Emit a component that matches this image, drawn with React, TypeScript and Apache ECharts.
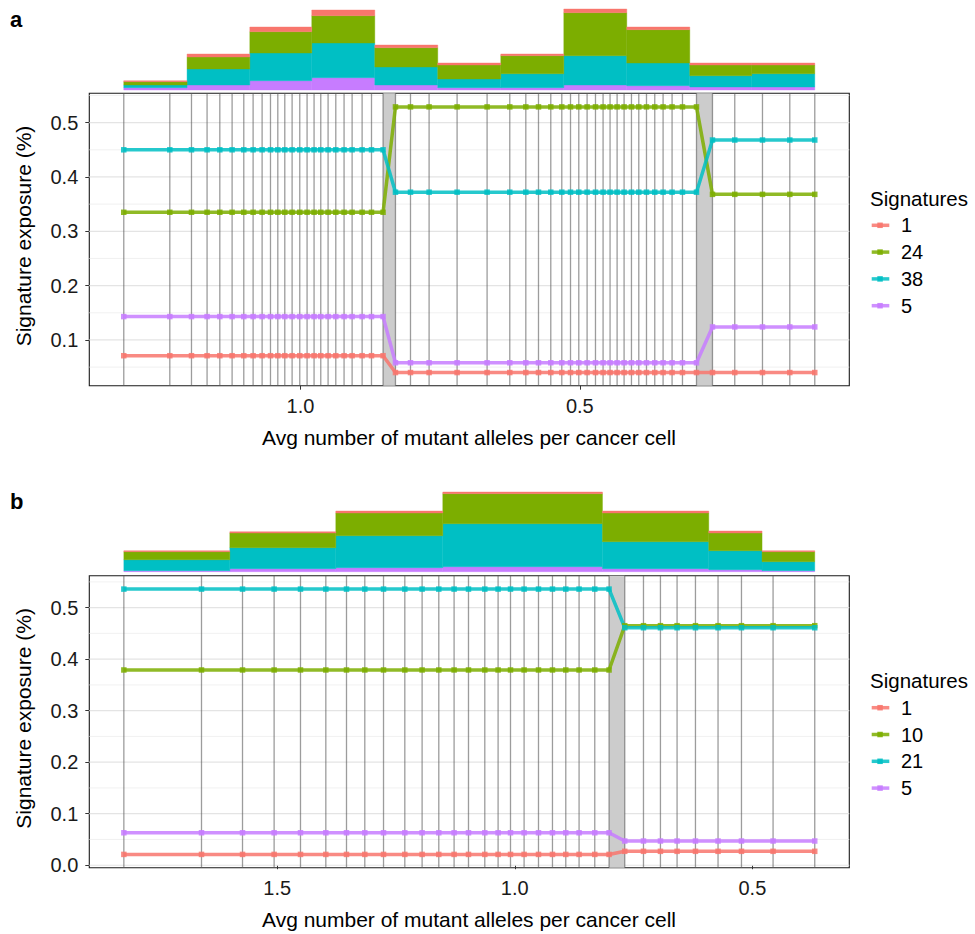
import React, { useEffect, useRef } from 'react';
import * as echarts from 'echarts';

const FONT = '"Liberation Sans", Arial, Helvetica, sans-serif';

// ---------- Panel a ----------
const aX = [
  1.3163, 1.2339, 1.1951, 1.1672, 1.1444, 1.1224, 1.1015, 1.0848, 1.0687, 1.0537, 1.0406, 1.0281,
  1.0150, 1.0013, 0.9882, 0.9757, 0.9637, 0.9506, 0.9368, 0.9220, 0.9076, 0.8897, 0.8729, 0.8522,
  0.8300, 0.8031, 0.7698, 0.7197, 0.6660, 0.6254, 0.5967, 0.5740, 0.5520, 0.5323, 0.5167, 0.5019,
  0.4870, 0.4720, 0.4584, 0.4459, 0.4333, 0.4208, 0.4076, 0.3945, 0.3807, 0.3659, 0.3510, 0.3349,
  0.3163, 0.2912,
  0.2626, 0.2227, 0.1731, 0.1242, 0.0795,
];
const aSig1 = [
  0.071, 0.071, 0.071, 0.071, 0.071, 0.071, 0.071, 0.071, 0.071, 0.071, 0.071, 0.071,
  0.071, 0.071, 0.071, 0.071, 0.071, 0.071, 0.071, 0.071, 0.071, 0.071, 0.071, 0.071,
  0.040, 0.040, 0.040, 0.040, 0.040, 0.040, 0.040, 0.040, 0.040, 0.040, 0.040, 0.040,
  0.040, 0.040, 0.040, 0.040, 0.040, 0.040, 0.040, 0.040, 0.040, 0.040, 0.040, 0.040,
  0.040, 0.040,
  0.040, 0.040, 0.040, 0.040, 0.040,
];
const aSig24 = [
  0.335, 0.335, 0.335, 0.335, 0.335, 0.335, 0.335, 0.335, 0.335, 0.335, 0.335, 0.335,
  0.335, 0.335, 0.335, 0.335, 0.335, 0.335, 0.335, 0.335, 0.335, 0.335, 0.335, 0.335,
  0.529, 0.529, 0.529, 0.529, 0.529, 0.529, 0.529, 0.529, 0.529, 0.529, 0.529, 0.529,
  0.529, 0.529, 0.529, 0.529, 0.529, 0.529, 0.529, 0.529, 0.529, 0.529, 0.529, 0.529,
  0.529, 0.529,
  0.368, 0.368, 0.368, 0.368, 0.368,
];
const aSig38 = [
  0.450, 0.450, 0.450, 0.450, 0.450, 0.450, 0.450, 0.450, 0.450, 0.450, 0.450, 0.450,
  0.450, 0.450, 0.450, 0.450, 0.450, 0.450, 0.450, 0.450, 0.450, 0.450, 0.450, 0.450,
  0.372, 0.372, 0.372, 0.372, 0.372, 0.372, 0.372, 0.372, 0.372, 0.372, 0.372, 0.372,
  0.372, 0.372, 0.372, 0.372, 0.372, 0.372, 0.372, 0.372, 0.372, 0.372, 0.372, 0.372,
  0.372, 0.372,
  0.468, 0.468, 0.468, 0.468, 0.468,
];
const aSig5 = [
  0.143, 0.143, 0.143, 0.143, 0.143, 0.143, 0.143, 0.143, 0.143, 0.143, 0.143, 0.143,
  0.143, 0.143, 0.143, 0.143, 0.143, 0.143, 0.143, 0.143, 0.143, 0.143, 0.143, 0.143,
  0.058, 0.058, 0.058, 0.058, 0.058, 0.058, 0.058, 0.058, 0.058, 0.058, 0.058, 0.058,
  0.058, 0.058, 0.058, 0.058, 0.058, 0.058, 0.058, 0.058, 0.058, 0.058, 0.058, 0.058,
  0.058, 0.058,
  0.124, 0.124, 0.124, 0.124, 0.124,
];
const aNames = ['1', '24', '38', '5'];
const aBands = [[0.8522, 0.8300], [0.2912, 0.2626]];
const aHistEdges = [1.3163, 1.2030, 1.0907, 0.9798, 0.8670, 0.7543, 0.6415, 0.5287, 0.4160, 0.3032, 0.1922, 0.0795];
const aHist5 = [2.3, 5, 9.3, 12.3, 5, 2.3, 2.3, 5, 4.3, 3, 3];
const aHist38 = [2.7, 16, 27.7, 34.7, 18, 8.7, 14, 29.3, 22.7, 11.3, 13.3];
const aHist24 = [3.3, 12, 21.3, 27.3, 19.3, 14, 18, 43, 33.3, 10.7, 8.7];
const aHist1 = [1, 3, 4.7, 5.7, 2.7, 2, 1.7, 3.7, 2.7, 2, 2];
const aXTicks = [1.0, 0.5];
const aYTicks = [0.1, 0.2, 0.3, 0.4, 0.5];
const aYMinor = [0.05, 0.15, 0.25, 0.35, 0.45, 0.55];

// ---------- Panel b ----------
const bX = [
  1.8226, 1.6592, 1.5729, 1.5064, 1.4509, 1.3976, 1.3541, 1.3156, 1.2762, 1.2314, 1.1950, 1.1599,
  1.1277, 1.0974, 1.0631, 1.0351, 1.0090, 0.9804, 0.9501, 0.9207, 0.8927, 0.8647, 0.8317, 0.8016,
  0.7686, 0.7292, 0.6935, 0.6585, 0.6198, 0.5723, 0.5230, 0.4565, 0.3688,
];
const bSig1 = [
  0.021, 0.021, 0.021, 0.021, 0.021, 0.021, 0.021, 0.021, 0.021, 0.021, 0.021, 0.021,
  0.021, 0.021, 0.021, 0.021, 0.021, 0.021, 0.021, 0.021, 0.021, 0.021, 0.021, 0.021,
  0.027, 0.027, 0.027, 0.027, 0.027, 0.027, 0.027, 0.027, 0.027,
];
const bSig10 = [
  0.379, 0.379, 0.379, 0.379, 0.379, 0.379, 0.379, 0.379, 0.379, 0.379, 0.379, 0.379,
  0.379, 0.379, 0.379, 0.379, 0.379, 0.379, 0.379, 0.379, 0.379, 0.379, 0.379, 0.379,
  0.465, 0.465, 0.465, 0.465, 0.465, 0.465, 0.465, 0.465, 0.465,
];
const bSig21 = [
  0.536, 0.536, 0.536, 0.536, 0.536, 0.536, 0.536, 0.536, 0.536, 0.536, 0.536, 0.536,
  0.536, 0.536, 0.536, 0.536, 0.536, 0.536, 0.536, 0.536, 0.536, 0.536, 0.536, 0.536,
  0.461, 0.461, 0.461, 0.461, 0.461, 0.461, 0.461, 0.461, 0.461,
];
const bSig5 = [
  0.063, 0.063, 0.063, 0.063, 0.063, 0.063, 0.063, 0.063, 0.063, 0.063, 0.063, 0.063,
  0.063, 0.063, 0.063, 0.063, 0.063, 0.063, 0.063, 0.063, 0.063, 0.063, 0.063, 0.063,
  0.047, 0.047, 0.047, 0.047, 0.047, 0.047, 0.047, 0.047, 0.047,
];
const bNames = ['1', '10', '21', '5'];
const bBands = [[0.8016, 0.7686]];
const bHistEdges = [1.8226, 1.5996, 1.3766, 1.1515, 0.8155, 0.5918, 0.4797, 0.3688];
const bHist5 = [1, 3, 4, 5, 3, 2, 1];
const bHist21 = [11, 21, 32, 43, 27, 19, 9];
const bHist10 = [8, 14.7, 22.7, 30, 28.7, 17.7, 10];
const bHist1 = [1, 1.3, 2, 1.7, 2, 2, 1];
const bXTicks = [1.5, 1.0, 0.5];
const bYTicks = [0.0, 0.1, 0.2, 0.3, 0.4, 0.5];
const bYMinor = [0.05, 0.15, 0.25, 0.35, 0.45, 0.55];

const COLORS = ['#F8766D', '#7CAE00', '#00BFC4', '#C77CFF'];

const PANELS = [
  {
    label: 'a', off: 0,
    xs: aX, names: aNames, values: [aSig1, aSig24, aSig38, aSig5],
    bands: aBands, edges: aHistEdges,
    hist: [aHist5, aHist38, aHist24, aHist1], histColors: [COLORS[3], COLORS[2], COLORS[1], COLORS[0]],
    xMin: 0.0177, xMax: 1.378, yMin: 0.0158, yMax: 0.554,
    xTicks: aXTicks, yTicks: aYTicks, yMinor: aYMinor,
    histTop: 5, plotTop: 93.3, plotH: 292.4,
  },
  {
    label: 'b', off: 482.4,
    xs: bX, names: bNames, values: [bSig1, bSig10, bSig21, bSig5],
    bands: bBands, edges: bHistEdges,
    hist: [bHist5, bHist21, bHist10, bHist1], histColors: [COLORS[3], COLORS[2], COLORS[1], COLORS[0]],
    xMin: 0.2961, xMax: 1.8953, yMin: -0.0048, yMax: 0.562,
    xTicks: bXTicks, yTicks: bYTicks, yMinor: bYMinor,
    histTop: 486.7, plotTop: 575.7, plotH: 292,
  },
];

function buildOption() {
  const grid: any[] = [];
  const xAxis: any[] = [];
  const yAxis: any[] = [];
  const series: any[] = [];
  const elements: any[] = [];

  PANELS.forEach((P, p) => {
    const hg = 2 * p;
    const pg = 2 * p + 1;
    grid.push({ left: 89.3, top: P.histTop, width: 760, height: 85, show: false, containLabel: false, outerBoundsMode: 'none' });
    grid.push({
      left: 89.3, top: P.plotTop, width: 760, height: P.plotH, show: true,
      borderColor: '#1a1a1a', borderWidth: 1.1, backgroundColor: 'rgba(0,0,0,0)', containLabel: false, outerBoundsMode: 'none',
    });
    xAxis.push({ gridIndex: hg, type: 'value', inverse: true, min: P.xMin, max: P.xMax, show: false });
    yAxis.push({ gridIndex: hg, type: 'value', min: 0, max: 85, show: false });
    xAxis.push({
      gridIndex: pg, type: 'value', inverse: true, min: P.xMin, max: P.xMax,
      axisLine: { show: false },
      axisTick: { show: true, customValues: P.xTicks, length: 4, lineStyle: { color: '#333', width: 1 } },
      axisLabel: {
        show: true, customValues: P.xTicks, formatter: (v: number) => v.toFixed(1),
        fontSize: 20, color: '#1a1a1a', fontFamily: FONT, margin: 10,
      },
      splitLine: { show: false },
    });
    yAxis.push({
      gridIndex: pg, type: 'value', min: P.yMin, max: P.yMax,
      axisLine: { show: false },
      axisTick: { show: true, customValues: P.yTicks, length: 4, lineStyle: { color: '#333', width: 1 } },
      axisLabel: {
        show: true, customValues: P.yTicks, formatter: (v: number) => v.toFixed(1),
        fontSize: 20, color: '#1a1a1a', fontFamily: FONT, margin: 11,
      },
      splitLine: { show: false },
    });

    // gridlines
    const gdata = [
      ...P.yTicks.map((v) => [P.xMin, v, 1]),
      ...P.yMinor.map((v) => [P.xMin, v, 0]),
    ];
    series.push({
      type: 'custom', xAxisIndex: pg, yAxisIndex: pg, silent: true, data: gdata,
      encode: { x: 0, y: 1 },
      renderItem: (params: any, api: any) => {
        const cs = params.coordSys;
        const y = api.coord([api.value(0), api.value(1)])[1];
        const major = api.value(2) === 1;
        return {
          type: 'line',
          shape: { x1: cs.x, y1: y, x2: cs.x + cs.width, y2: y },
          style: { stroke: major ? '#e4e4e4' : '#eeeeee', lineWidth: major ? 1.2 : 0.8 },
        };
      },
    });
    // bands
    series.push({
      type: 'custom', xAxisIndex: pg, yAxisIndex: pg, silent: true,
      data: P.bands.map((b) => [b[0], b[1], P.yMin]),
      encode: { x: [0, 1], y: 2 },
      renderItem: (params: any, api: any) => {
        const cs = params.coordSys;
        const a = api.coord([api.value(0), P.yMin])[0];
        const b = api.coord([api.value(1), P.yMin])[0];
        return {
          type: 'rect',
          shape: { x: Math.min(a, b), y: cs.y, width: Math.abs(b - a), height: cs.height },
          style: { fill: '#cccccc' },
        };
      },
    });
    // vertical lines
    series.push({
      type: 'custom', xAxisIndex: pg, yAxisIndex: pg, silent: true,
      data: P.xs.map((x) => [x, P.yMin]),
      encode: { x: 0, y: 1 },
      renderItem: (params: any, api: any) => {
        const cs = params.coordSys;
        const x = api.coord([api.value(0), P.yMin])[0];
        return {
          type: 'line',
          shape: { x1: x, y1: cs.y, x2: x, y2: cs.y + cs.height },
          style: { stroke: 'rgba(90,90,90,0.6)', lineWidth: 1.3 },
        };
      },
    });
    // signature lines
    P.names.forEach((name, k) => {
      series.push({
        type: 'line', name, xAxisIndex: pg, yAxisIndex: pg, silent: true,
        data: P.xs.map((x, i) => [x, P.values[k][i]]),
        symbol: 'rect', symbolSize: 5.5, showSymbol: true, showAllSymbol: true,
        lineStyle: { color: COLORS[k], width: 3.5, opacity: 0.85 },
        itemStyle: { color: COLORS[k], opacity: 0.85 },
        emphasis: { disabled: true },
      });
    });
    // stacked histogram
    const cum = P.edges.slice(0, -1).map(() => 0);
    P.hist.forEach((vals, k) => {
      const data = vals.map((h, i) => {
        const item = [P.edges[i], P.edges[i + 1], cum[i], cum[i] + h];
        cum[i] += h;
        return item;
      });
      const col = P.histColors[k];
      series.push({
        type: 'custom', xAxisIndex: hg, yAxisIndex: hg, silent: true, data,
        encode: { x: [0, 1], y: [2, 3] },
        renderItem: (params: any, api: any) => {
          const p0 = api.coord([api.value(0), api.value(2)]);
          const p1 = api.coord([api.value(1), api.value(3)]);
          return {
            type: 'rect',
            shape: {
              x: Math.min(p0[0], p1[0]), y: Math.min(p0[1], p1[1]),
              width: Math.abs(p1[0] - p0[0]), height: Math.abs(p1[1] - p0[1]),
            },
            style: { fill: col, stroke: col, lineWidth: 0.4 },
          };
        },
      });
    });

    // texts & legend
    const o = P.off;
    elements.push({
      type: 'text', x: 10, y: 19 + o,
      style: { text: P.label, fontSize: 22, fontWeight: 'bold', fontFamily: FONT, fill: '#000', textAlign: 'left', textVerticalAlign: 'middle', align: 'left', verticalAlign: 'middle' },
    });
    elements.push({
      type: 'text', x: 23, y: 236 + o, rotation: Math.PI / 2,
      style: { text: 'Signature exposure (%)', fontSize: 21, fontFamily: FONT, fill: '#000', textAlign: 'center', textVerticalAlign: 'middle', align: 'center', verticalAlign: 'middle' },
    });
    elements.push({
      type: 'text', x: 469, y: 437 + o,
      style: { text: 'Avg number of mutant alleles per cancer cell', fontSize: 21, fontFamily: FONT, fill: '#000', textAlign: 'center', textVerticalAlign: 'middle', align: 'center', verticalAlign: 'middle' },
    });
    elements.push({
      type: 'text', x: 870, y: 198 + o,
      style: { text: 'Signatures', fontSize: 20.5, fontFamily: FONT, fill: '#000', textAlign: 'left', textVerticalAlign: 'middle', align: 'left', verticalAlign: 'middle' },
    });
    P.names.forEach((name, k) => {
      const yc = 225.3 + 26.8 * k + o;
      elements.push({ type: 'line', shape: { x1: 871.7, y1: yc, x2: 889.3, y2: yc }, style: { stroke: COLORS[k], lineWidth: 3.5, opacity: 0.85 } });
      elements.push({ type: 'rect', shape: { x: 877.3, y: yc - 2.75, width: 5.5, height: 5.5 }, style: { fill: COLORS[k], opacity: 0.9 } });
      elements.push({
        type: 'text', x: 901, y: yc,
        style: { text: name, fontSize: 20, fontFamily: FONT, fill: '#000', textAlign: 'left', textVerticalAlign: 'middle', align: 'left', verticalAlign: 'middle' },
      });
    });
  });

  return {
    animation: false,
    backgroundColor: '#ffffff',
    textStyle: { fontFamily: FONT },
    grid, xAxis, yAxis, series,
    graphic: { elements },
  };
}

export default function App() {
  const ref = useRef<HTMLDivElement>(null);
  useEffect(() => {
    if (!ref.current) return;
    const chart = echarts.init(ref.current, undefined, { renderer: 'svg' });
    chart.setOption(buildOption() as any);
    return () => chart.dispose();
  }, []);
  return (
    <div
      ref={ref}
      style={{ position: 'fixed', left: 0, top: 0, width: 975, height: 934, background: '#fff' }}
    />
  );
}
